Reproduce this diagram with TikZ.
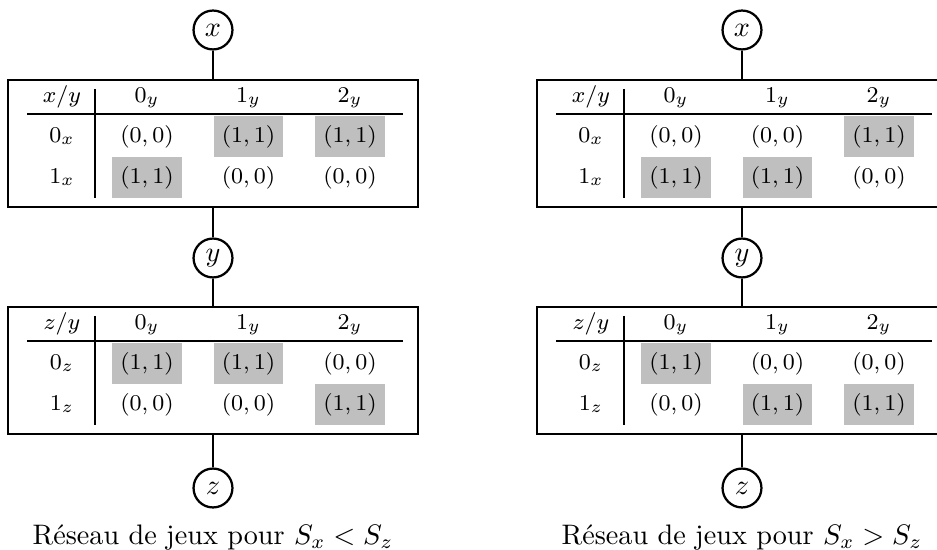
\documentclass[tikz,border=0pt]{standalone}
\usepackage{amsmath,amssymb}
\usetikzlibrary{positioning}

\tikzset{
  var/.style={circle,draw,thick,minimum size=13.8pt,inner sep=0pt},
  gamebox/.style={rectangle,draw,thick,minimum width=145.4pt,minimum height=45pt,inner sep=0pt},
  cell/.style={font=\footnotesize,inner sep=0pt,minimum width=24.8pt,minimum height=14.5pt,
               text height=6pt,text depth=2pt},
  pay0/.style={},
  pay1/.style={fill=gray!50},
}

\begin{document}
\begin{tikzpicture}[x=0.3546pt,y=-0.3546pt]
\useasboundingbox (0,0) rectangle (937,550);
\clip (0,0) rectangle (937,550);
% tables: name / x shift / y shift / row variable / payoffs row by row
\foreach \t/\dx/\dy/\v/\bits in {L1/0/0/x/{0,1,1,1,0,0},L2/0/227/z/{1,1,0,0,0,1},
                                  R1/529/0/x/{0,0,1,1,1,0},R2/529/227/z/{1,0,0,0,1,1}} {
    \node[gamebox] (\t) at (213+\dx,143.5+\dy) {};
    \node[cell] (\t-h) at (62+\dx,96.5+\dy) {$\v/y$};
    \foreach \j in {0,1,2} {
        \node[cell] (\t-h\j) at (147+\j*101.5+\dx,96.5+\dy) {$\j_y$};
    }
    \foreach \i in {0,1} {
        \node[cell] (\t-r\i) at (62+\dx,136.5+\i*41+\dy) {$\i_\v$};
    }
    \foreach \b [count=\k from 0] in \bits {
        \pgfmathtruncatemacro\row{int(\k/3)}
        \pgfmathtruncatemacro\col{mod(\k,3)}
        \node[cell,pay\b] (\t-\row\col) at (147+\col*101.5+\dx,136.5+\row*41+\dy) {$(\b,\b)$};
    }
    \draw[thick] (27+\dx,114+\dy) -- (403+\dx,114+\dy);
    \draw[thick] (95+\dx,89+\dy) -- (95+\dx,198+\dy);
}
% variables and links
\foreach \s/\dx/\cmp in {L/0/<,R/529/>} {
    \node[var] (x\s) at (213+\dx,30) {$x$};
    \node[var] (y\s) at (213+\dx,258) {$y$};
    \node[var] (z\s) at (213+\dx,488) {$z$};
    \draw[thick] (x\s) -- (\s1);
    \draw[thick] (\s1) -- (y\s);
    \draw[thick] (y\s) -- (\s2);
    \draw[thick] (\s2) -- (z\s);
    \node[anchor=base] (cap\s) at (213+\dx,544) {Réseau de jeux pour $S_x \cmp S_z$};
}
\end{tikzpicture}
\end{document}
